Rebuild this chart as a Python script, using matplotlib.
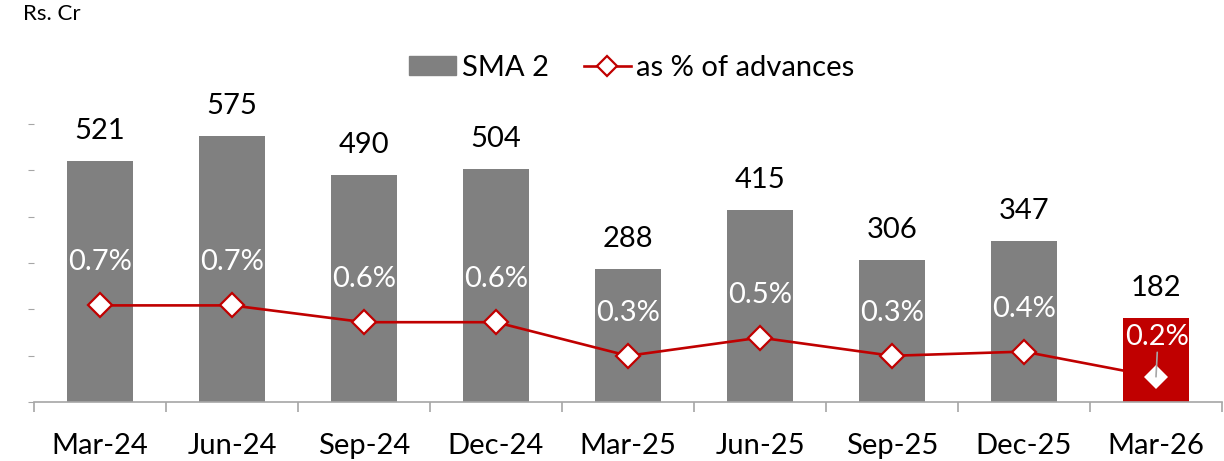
import matplotlib
matplotlib.use("Agg")
import matplotlib.pyplot as plt
import numpy as np
from matplotlib.lines import Line2D
from matplotlib.patches import Patch

plt.rcParams['font.family'] = ['Lato', 'DejaVu Sans']

quarters = ["Mar-24", "Jun-24", "Sep-24", "Dec-24", "Mar-25", "Jun-25", "Sep-25", "Dec-25", "Mar-26"]
sma2 = [521, 575, 490, 504, 288, 415, 306, 347, 182]
pct_adv = [0.69, 0.69, 0.57, 0.57, 0.33, 0.46, 0.33, 0.36, 0.18]

GREY = "#808080"
RED = "#C00000"
FS = 21

W, H, DPI = 12.24, 4.61, 100
fig = plt.figure(figsize=(W, H), dpi=DPI)
ax = fig.add_axes([34 / 1224, 59 / 461, (1222 - 34) / 1224, 324.3 / 461])
ax2 = ax.twinx()

x = np.arange(len(quarters))
colors = [GREY] * (len(quarters) - 1) + [RED]
ax.bar(x, sma2, width=0.5, color=colors, zorder=2, label="SMA 2")
ax.set_xlim(-0.5, len(quarters) - 0.5)
ax.set_ylim(0, 700)
ax.set_yticks(range(0, 700, 100))
ax.set_yticklabels([])
ax.tick_params(axis='y', length=4, width=0.8, color="#A6A6A6")

ax.set_xticks(x)
ax.set_xticklabels(quarters, fontsize=FS)
ax.set_xticks(np.arange(-0.5, len(quarters)), minor=True)
ax.tick_params(axis='x', which='major', length=0, pad=22)
ax.tick_params(axis='x', which='minor', length=7, width=1.2, color="#A6A6A6")

for s in ["top", "right", "left"]:
    ax.spines[s].set_visible(False)
    ax2.spines[s].set_visible(False)
ax2.spines["bottom"].set_visible(False)
ax.spines["bottom"].set_color("#A6A6A6")
ax.spines["bottom"].set_linewidth(1.2)

for xi, v in zip(x, sma2):
    ax.annotate(f"{v}", (xi, v), xytext=(0, 21.5), textcoords="offset points",
                ha="center", va="center", fontsize=FS, color="black")

# percentage of advances on the secondary axis
ax2.set_ylim(0, 324.3 / 140)
ax2.set_yticks([])
ax2.plot(x, pct_adv, color=RED, lw=1.9, zorder=3)
ax2.plot(x[:-1], pct_adv[:-1], ls="none", marker="D", ms=12.5, mfc="white",
         mec=RED, mew=1.6, zorder=4)
ax2.plot(x[-1:], pct_adv[-1:], ls="none", marker="D", ms=12.5, mfc="white",
         mec=RED, mew=0, zorder=4)

for i, (xi, v) in enumerate(zip(x, pct_adv)):
    if i == len(x) - 1:
        ax2.annotate(f"{v:.1f}%", (xi, v), xytext=(1, 29), textcoords="offset points",
                     ha="center", va="center", fontsize=FS, color="white", zorder=6,
                     arrowprops=dict(arrowstyle="-", color="#A6A6A6", lw=1.2,
                                     shrinkA=0, shrinkB=0, relpos=(0.5, 0.0)))
    else:
        ax2.annotate(f"{v:.1f}%", (xi, v), xytext=(0, 31), textcoords="offset points",
                     ha="center", va="center", fontsize=FS, color="white", zorder=6)

handles = [Patch(color=GREY), Line2D([], [], color=RED, lw=1.9, marker="D", ms=10,
                                     mfc="white", mec=RED, mew=1.6)]
fig.legend(handles, ["SMA 2", "as % of advances"], loc="center",
           bbox_to_anchor=(632 / 1224, 1 - 68 / 461), ncol=2, frameon=False,
           fontsize=FS, handlelength=1.6, handleheight=0.6, handletextpad=0.2,
           columnspacing=1.2)

fig.text(23 / 1224, 1 - 14 / 461, "Rs. Cr", fontsize=16, ha="left", va="center")

fig.savefig("out.png", dpi=DPI)
